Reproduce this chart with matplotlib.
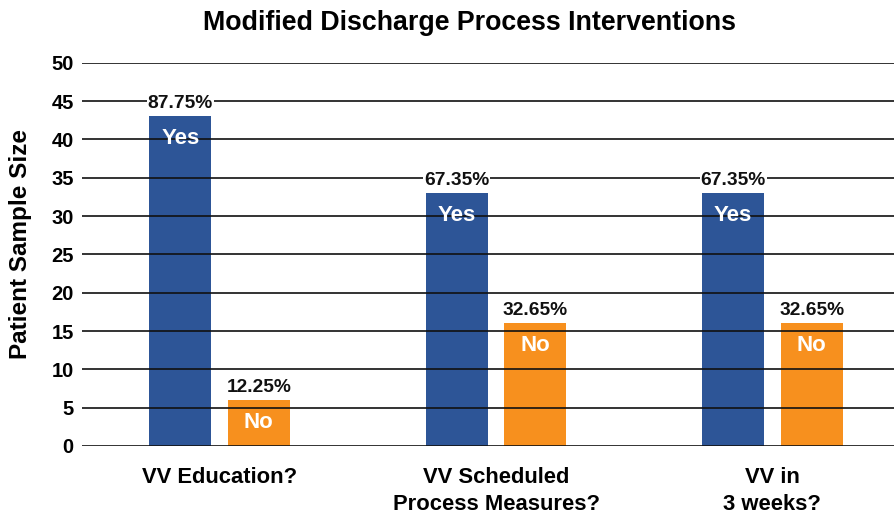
import numpy as np
import matplotlib.pyplot as plt
from matplotlib import font_manager

plt.rcParams['font.family'] = ['Liberation Sans', 'DejaVu Sans']
plt.rcParams['font.weight'] = 'bold'

# Data
categories = ["VV Education?", "VV Scheduled\nProcess Measures?", "VV in\n3 weeks?"]
yes_counts = [43, 33, 33]
no_counts = [6, 16, 16]
yes_pct = ["87.75%", "67.35%", "67.35%"]
no_pct = ["12.25%", "32.65%", "32.65%"]

blue = "#2D5597"
orange = "#F7901E"

# title in the original uses a narrow face, use one if it's around
names = {f.name for f in font_manager.fontManager.ttflist}
if "Liberation Sans Narrow" in names:
    title_font, title_size = "Liberation Sans Narrow", 23
else:
    title_font, title_size = "Liberation Sans", 19.3

fig = plt.figure(figsize=(8.94, 5.15), dpi=100)
ax = fig.add_axes([0.0917, 0.134, 0.9083, 0.744])

x = np.arange(len(categories))
w = 0.225
off = 0.142

bars_yes = ax.bar(x - off, yes_counts, w, color=blue, zorder=1)
bars_no = ax.bar(x + off, no_counts, w, color=orange, zorder=1)

# gridlines sit on top of the bars
for yv in range(0, 51, 5):
    ax.axhline(yv, color="#111111", lw=1.2, zorder=2)

for bars, pcts, word in [(bars_yes, yes_pct, "Yes"), (bars_no, no_pct, "No")]:
    for b, p in zip(bars, pcts):
        cx = b.get_x() + b.get_width() / 2
        top = b.get_height()
        ax.annotate(p, (cx, top), xytext=(0, 9), textcoords="offset points",
                    ha="center", va="center", fontsize=13.8, fontweight="bold",
                    color="#111111", zorder=4,
                    bbox=dict(facecolor="white", edgecolor="none", pad=0.5))
        ax.annotate(word, (cx, top), xytext=(0, -16), textcoords="offset points",
                    ha="center", va="center", fontsize=16, fontweight="bold",
                    color="white", zorder=3)

ax.set_ylim(0, 50)
ax.set_xlim(-0.498, 2.44)
ax.set_yticks(range(0, 51, 5))
ax.set_xticks(x)
ax.set_xticklabels(categories, fontsize=15.8, fontweight="bold", linespacing=1.4)
ax.tick_params(axis="both", length=0)
ax.tick_params(axis="x", pad=15, labelsize=15.8)
ax.tick_params(axis="y", pad=6, labelsize=14.5)
for s in ax.spines.values():
    s.set_visible(False)

ax.set_ylabel("Patient Sample Size", fontsize=17.5, fontweight="bold")
ax.yaxis.set_label_coords(-0.062, 0.527)
fig.text(0.525, 0.955, "Modified Discharge Process Interventions",
         family=[title_font, "DejaVu Sans"], fontsize=title_size,
         fontweight="bold", ha="center", va="center")

fig.savefig("out.png", dpi=100)
